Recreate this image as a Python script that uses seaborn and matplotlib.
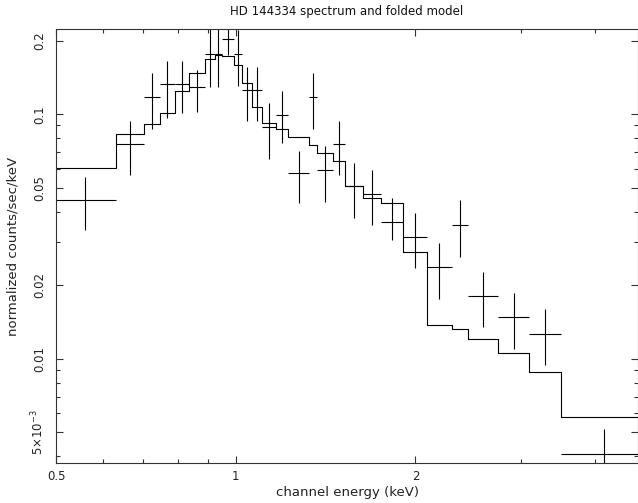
import numpy as np
import pandas as pd
import matplotlib
matplotlib.use("Agg")
import matplotlib.pyplot as plt
import matplotlib.ticker as mticker
import seaborn as sns

# Spectrum bins (keV)
edges = [0.498, 0.6295, 0.702, 0.7476, 0.790, 0.834, 0.890, 0.923, 0.9486, 0.993,
         1.023, 1.064, 1.108, 1.167, 1.225, 1.3285, 1.370, 1.457, 1.524, 1.632,
         1.750, 1.908, 2.089, 2.305, 2.446, 2.753, 3.100, 3.507, 4.9]

# data points (normalized counts/sec/keV) with error range
rate = [0.0445, 0.0754, 0.1177, 0.133, 0.133, 0.1297, 0.176, 0.176, 0.2038, 0.176,
        0.1254, 0.1254, 0.089, 0.0993, 0.0574, 0.1174, 0.059, 0.0754, 0.0509, 0.0471,
        0.0364, 0.0316, 0.0237, 0.0353, 0.01806, 0.01483, 0.01267, 0.00409]
rate_lo = [0.0336, 0.0565, 0.0873, 0.0968, 0.1009, 0.1019, 0.1297, 0.1297, 0.175, 0.1305,
           0.0939, 0.0939, 0.0655, 0.076, 0.0432, 0.0871, 0.0439, 0.0565, 0.0376, 0.0353,
           0.0306, 0.0236, 0.0175, 0.0262, 0.01345, 0.01097, 0.00943, 0.00303]
rate_hi = [0.0553, 0.0942, 0.148, 0.1652, 0.1652, 0.1514, 0.226, 0.226, 0.233, 0.222,
           0.1565, 0.1565, 0.1109, 0.1245, 0.071, 0.1482, 0.0742, 0.0942, 0.0634, 0.0592,
           0.0453, 0.0394, 0.0298, 0.0446, 0.0227, 0.01853, 0.01594, 0.00515]

# folded model per bin
model = [0.0605, 0.0828, 0.0915, 0.1009, 0.1245, 0.148, 0.1679, 0.1743, 0.1731, 0.1591,
         0.1339, 0.1074, 0.0919, 0.0868, 0.081, 0.0749, 0.0697, 0.0644, 0.0509, 0.0453,
         0.0432, 0.0273, 0.0137, 0.0132, 0.0120, 0.01053, 0.0088, 0.00576]

x_ticks = [0.5, 1, 2]
x_ticklabels = ["0.5", "1", "2"]
x_minor = [0.6, 0.7, 0.8, 0.9, 3, 4]
y_ticks = [0.005, 0.01, 0.02, 0.05, 0.1, 0.2]
y_ticklabels = ["5×10$^{-3}$", "0.01", "0.02", "0.05", "0.1", "0.2"]
y_minor = [0.004, 0.006, 0.007, 0.008, 0.009, 0.03, 0.04, 0.06, 0.07, 0.08, 0.09]

sns.set_theme(style="ticks")
plt.rcParams["font.family"] = ["DejaVu Sans"]

fig = plt.figure(figsize=(6.38, 5.03), dpi=100)
ax = fig.add_axes([56 / 638, 40 / 503, 582 / 638, 434 / 503])
ax.set_xscale("log")
ax.set_yscale("log")

lo = np.array(edges[:-1])
hi = np.array(edges[1:])
centre = np.sqrt(lo * hi)
r = np.array(rate)

# Model as a step line
model_df = pd.DataFrame({"energy": edges, "model": model + [model[-1]]})
sns.lineplot(data=model_df, x="energy", y="model", drawstyle="steps-post",
             color="black", lw=0.8, estimator=None, sort=False, ax=ax)

# Data crosses
ax.errorbar(centre, r, xerr=[centre - lo, hi - centre],
            yerr=[r - np.array(rate_lo), np.array(rate_hi) - r],
            fmt="none", ecolor="black", elinewidth=0.8, capsize=0)

ax.set_xlim(0.5, 4.719)
ax.set_ylim(0.003749, 0.2233)

ax.xaxis.set_major_locator(mticker.FixedLocator(x_ticks))
ax.xaxis.set_major_formatter(mticker.FixedFormatter(x_ticklabels))
ax.xaxis.set_minor_locator(mticker.FixedLocator(x_minor))
ax.xaxis.set_minor_formatter(mticker.NullFormatter())
ax.yaxis.set_major_locator(mticker.FixedLocator(y_ticks))
ax.yaxis.set_major_formatter(mticker.FixedFormatter(y_ticklabels))
ax.yaxis.set_minor_locator(mticker.FixedLocator(y_minor))
ax.yaxis.set_minor_formatter(mticker.NullFormatter())

ax.tick_params(which="both", direction="in", top=True, right=True, color="#333333",
               width=0.8, labelsize=8.5, labelcolor="#222222")
ax.tick_params(which="major", length=5)
ax.tick_params(which="minor", length=3)
ax.tick_params(axis="x", pad=5)
ax.tick_params(axis="y", labelrotation=90, pad=7)
for lab in ax.get_yticklabels():
    lab.set_va("center")

for sp in ax.spines.values():
    sp.set_color("#333333")
    sp.set_linewidth(0.8)

ax.set_xlabel("channel energy (keV)", fontsize=9.5, color="#222222")
ax.set_ylabel("normalized counts/sec/keV", fontsize=9.5, color="#222222")
ax.xaxis.set_label_coords(0.5, -0.052)
ax.yaxis.set_label_coords(-0.062, 0.5)
ax.set_title("HD 144334 spectrum and folded model", fontsize=8.5, pad=10, color="#111111")

fig.savefig("out.png", dpi=100)
